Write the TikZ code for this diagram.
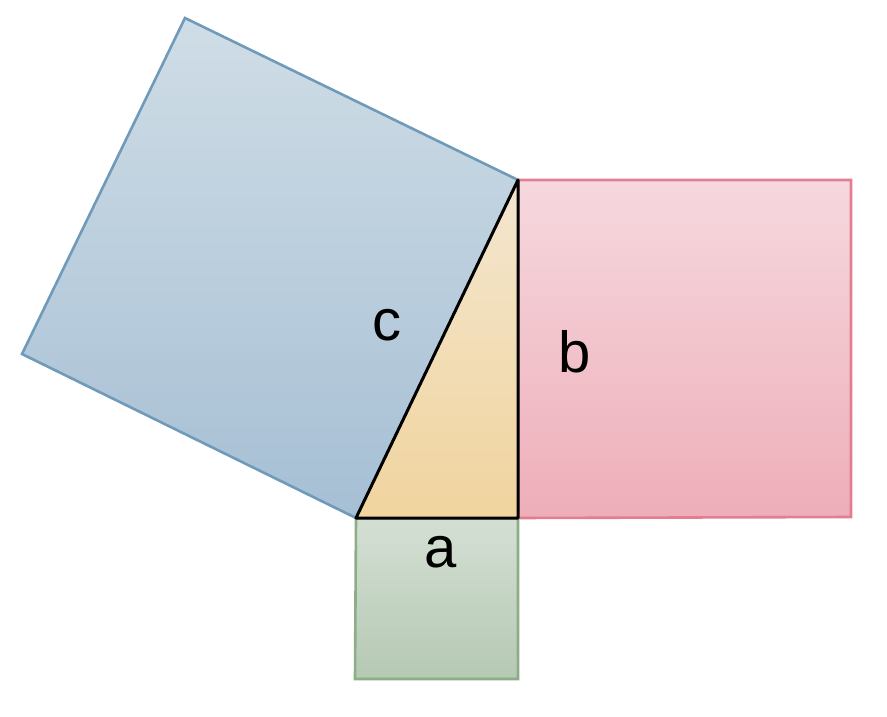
\documentclass[tikz,border=0pt]{standalone}
\usepackage{fontspec}
\setmainfont{Liberation Sans}
\usetikzlibrary{positioning}

\definecolor{BlueTop}{HTML}{CFDDE6}
\definecolor{BlueBot}{HTML}{A6BFD4}
\definecolor{BlueLine}{HTML}{6F9AB9}
\definecolor{PinkTop}{HTML}{F6D8DE}
\definecolor{PinkBot}{HTML}{EEAEB9}
\definecolor{PinkLine}{HTML}{E27D92}
\definecolor{GreenTop}{HTML}{D4DFD4}
\definecolor{GreenBot}{HTML}{B5C9B3}
\definecolor{GreenLine}{HTML}{8DAD89}
\definecolor{SandTop}{HTML}{F3E6CF}
\definecolor{SandBot}{HTML}{F1D49E}

\begin{document}
\begin{tikzpicture}[x=1pt,y=-1pt,
        side/.style={line width=2.6pt,line join=miter},
        square c/.style={side,draw=BlueLine,top color=BlueTop,bottom color=BlueBot},
        square b/.style={side,draw=PinkLine,top color=PinkTop,bottom color=PinkBot},
        square a/.style={side,draw=GreenLine,top color=GreenTop,bottom color=GreenBot},
        triangle/.style={line width=3pt,line join=round,draw=black,top color=SandTop,bottom color=SandBot},
        letter/.style={anchor=base,inner sep=0pt,font=\fontsize{58}{60}\selectfont}]

      \useasboundingbox (0,0) rectangle (887,717);

      % corners of the right triangle
      \coordinate (p_a) at (356,518);
      \coordinate (p_r) at (518,518);
      \coordinate (p_b) at (518,180);

      % outer corners of the squares
      \coordinate (c_1) at (22,354);
      \coordinate (c_2) at (185,18);
      \coordinate (b_1) at (851,180);
      \coordinate (b_2) at (851,517);
      \coordinate (a_1) at (518,679);
      \coordinate (a_2) at (355,679);

      \draw[square c] (p_b) -- (p_a) -- (c_1) -- (c_2) -- cycle;
      \draw[square b] (p_b) -- (b_1) -- (b_2) -- (p_r) -- cycle;
      \draw[square a] (p_a) -- (p_r) -- (a_1) -- (a_2) -- cycle;
      \draw[triangle] (p_a) -- (p_r) -- (p_b) -- cycle;

      \node[letter] (lab_c) at (387,340) {c};
      \node[letter] (lab_b) at (575,372) {b};
      \node[letter] (lab_a) at (441,567) {a};
    \end{tikzpicture}
\end{document}
